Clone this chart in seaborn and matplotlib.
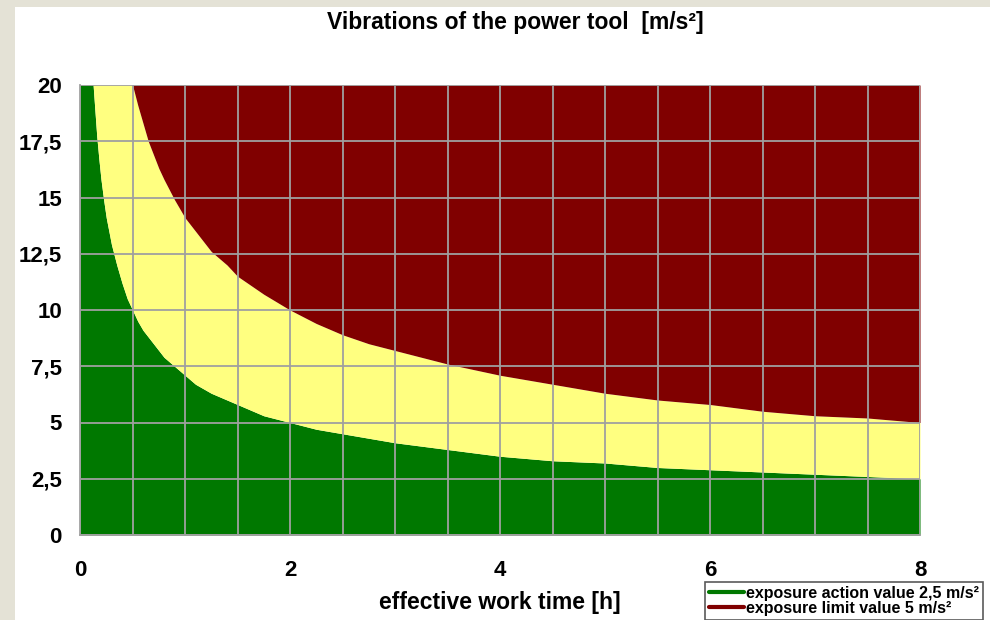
import matplotlib
matplotlib.use("Agg")
import matplotlib.pyplot as plt
from matplotlib.ticker import MultipleLocator, FuncFormatter
from matplotlib.lines import Line2D
from matplotlib.patches import Rectangle
import seaborn as sns

# effective work time [h] and boundary values
hours = [0, 0.125, 0.14, 0.16, 0.18, 0.2, 0.225, 0.25, 0.3, 0.35, 0.4, 0.45, 0.5,
         0.55, 0.6, 0.65, 0.7, 0.75, 0.8, 0.9, 1.0, 1.1, 1.25, 1.4, 1.5, 1.75,
         2, 2.25, 2.5, 2.75, 3, 3.5, 4, 4.5, 5, 5.5, 6, 6.5, 7, 7.5, 8]
action_value = [20, 20, 19.0, 17.7, 16.7, 15.8, 14.9, 14.1, 12.9, 12.0, 11.2, 10.5, 10.0,
                9.5, 9.1, 8.8, 8.5, 8.2, 7.9, 7.5, 7.1, 6.7, 6.3, 6.0, 5.8, 5.3,
                5.0, 4.7, 4.5, 4.3, 4.1, 3.8, 3.5, 3.3, 3.2, 3.0, 2.9, 2.8, 2.7, 2.6, 2.5]
limit_value = [20, 20, 20, 20, 20, 20, 20, 20, 20, 20, 20, 20, 20,
               19.1, 18.3, 17.5, 16.9, 16.3, 15.8, 14.9, 14.1, 13.5, 12.6, 12.0, 11.5, 10.7,
               10.0, 9.4, 8.9, 8.5, 8.2, 7.6, 7.1, 6.7, 6.3, 6.0, 5.8, 5.5, 5.3, 5.2, 5.0]
y_top = 20

legend_labels = ["exposure action value 2,5 m/s²", "exposure limit value 5 m/s²"]

GREEN = "#007800"
YELLOW = "#FFFF80"
DARKRED = "#800000"
GRIDC = "#A0A0A0"

sns.set_style("white")
plt.rcParams["font.family"] = ["Liberation Sans", "DejaVu Sans"]
plt.rcParams["font.weight"] = "bold"
plt.rcParams["text.color"] = "black"

fig = plt.figure(figsize=(9.9, 6.2), dpi=100)
fig.patch.set_facecolor("white")

# beige page border on the left and top
fig.add_artist(Rectangle((0, 0), 15 / 990, 1, transform=fig.transFigure,
                         facecolor="#E4E2D6", edgecolor="none"))
fig.add_artist(Rectangle((0, 1 - 7 / 620), 1, 7 / 620, transform=fig.transFigure,
                         facecolor="#E4E2D6", edgecolor="none"))

ax = fig.add_axes([80 / 990, 1 - 535 / 620, 840 / 990, 450 / 620])

ax.fill_between(hours, 0, action_value, color=GREEN, linewidth=0, zorder=1)
ax.fill_between(hours, action_value, limit_value, color=YELLOW, linewidth=0, zorder=1)
ax.fill_between(hours, limit_value, y_top, color=DARKRED, linewidth=0, zorder=1)

ax.set_xlim(0, 8)
ax.set_ylim(0, 20)
ax.xaxis.set_major_locator(MultipleLocator(2))
ax.xaxis.set_minor_locator(MultipleLocator(0.5))
ax.yaxis.set_major_locator(MultipleLocator(2.5))
ax.yaxis.set_major_formatter(FuncFormatter(lambda v, p: f"{v:g}".replace(".", ",")))

ax.grid(True, which="both", axis="x", color=GRIDC, linewidth=1.3, zorder=2)
ax.grid(True, which="major", axis="y", color=GRIDC, linewidth=1.3, zorder=2)
ax.set_axisbelow(False)

for s in ["top", "right"]:
    ax.spines[s].set_visible(False)
for s in ["left", "bottom"]:
    ax.spines[s].set_color(GRIDC)
    ax.spines[s].set_linewidth(1.3)

ax.tick_params(axis="both", which="major", length=9, width=1.3, color=GRIDC,
               labelsize=16, labelcolor="black")
ax.tick_params(axis="x", which="minor", length=0)
ax.tick_params(axis="x", which="major", pad=9)
ax.tick_params(axis="y", which="major", pad=4)
for lab in ax.get_xticklabels() + ax.get_yticklabels():
    lab.set_fontweight("bold")

fig.text(515 / 990, 1 - 22 / 620, "Vibrations of the power tool  [m/s²]",
         ha="center", va="center", fontsize=16.5, fontweight="bold", color="black")
fig.text(500 / 990, 1 - 603 / 620, "effective work time [h]",
         ha="center", va="center", fontsize=16.5, fontweight="bold", color="black")

handles = [Line2D([0], [0], color=GREEN, linewidth=3),
           Line2D([0], [0], color=DARKRED, linewidth=3)]
leg = fig.legend(handles, legend_labels, loc="upper left",
                 bbox_to_anchor=(705 / 990, 1 - 582 / 620),
                 frameon=True, fancybox=False, fontsize=11.5,
                 handlelength=2.2, handletextpad=0.1, labelspacing=0.0,
                 borderpad=0.25, borderaxespad=0)
leg.get_frame().set_edgecolor("#303030")
leg.get_frame().set_linewidth(1.2)
for t in leg.get_texts():
    t.set_fontweight("bold")
    t.set_color("black")

fig.savefig("out.png", dpi=100)
